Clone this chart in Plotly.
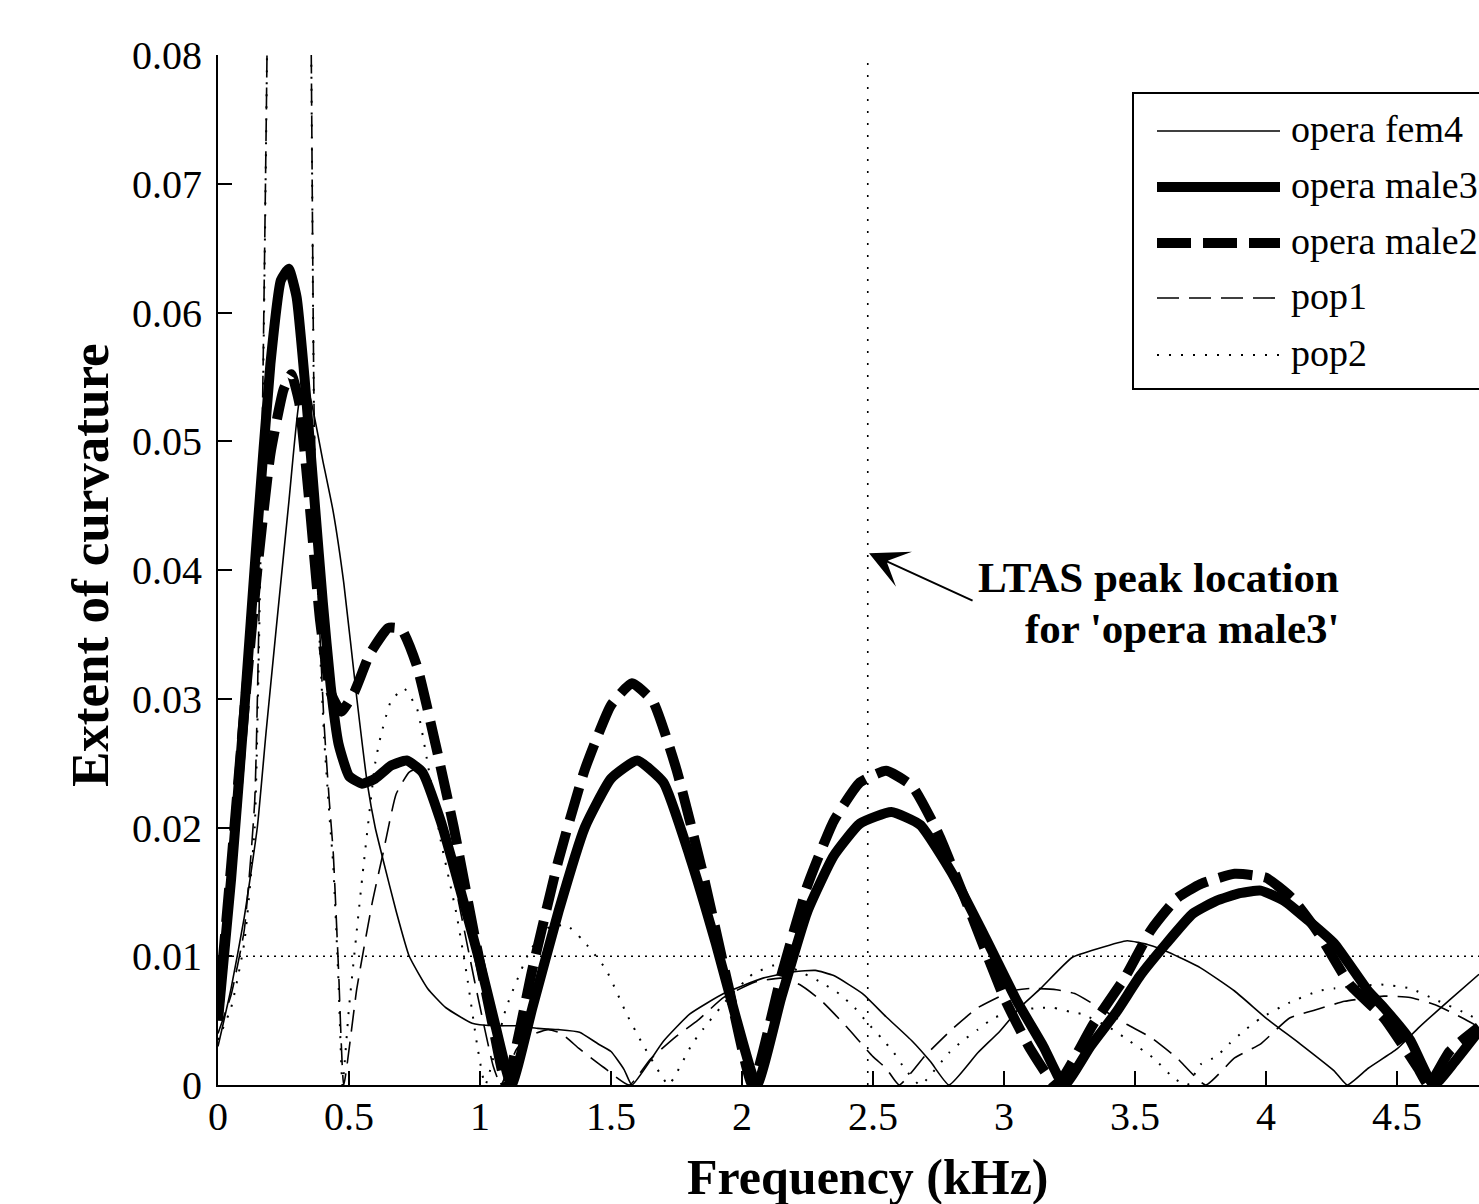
import plotly.graph_objects as go

# ---------------- data ----------------
freq_fem4 = [0, 0.05, 0.1, 0.15, 0.183, 0.22, 0.271, 0.31, 0.33, 0.35, 0.4, 0.44, 0.48, 0.53, 0.57,
             0.6, 0.63, 0.68, 0.73, 0.8, 0.87, 0.97, 1.05, 1.14, 1.22, 1.3, 1.38, 1.45, 1.5, 1.55,
             1.58, 1.7, 1.8, 1.93, 2.08, 2.2, 2.28, 2.35, 2.46, 2.55, 2.65, 2.72, 2.79, 2.9, 2.985,
             3.06, 3.14, 3.26, 3.36, 3.47, 3.55, 3.63, 3.75, 3.88, 4.0, 4.13, 4.26, 4.31, 4.39,
             4.5, 4.58, 4.7, 4.813]
curv_fem4 = [0.003, 0.0075, 0.013, 0.02, 0.0273, 0.035, 0.0454, 0.0531, 0.054, 0.0535, 0.0485,
             0.0445, 0.039, 0.03, 0.0234, 0.02, 0.0175, 0.0135, 0.01, 0.0075, 0.006, 0.0048,
             0.0046, 0.0046, 0.0044, 0.0043, 0.0041, 0.0032, 0.0026, 0.0012, 0.0, 0.0034, 0.0055,
             0.0071, 0.0083, 0.0088, 0.0089, 0.0085, 0.0071, 0.0053, 0.0034, 0.0018, 0.0, 0.0025,
             0.0042, 0.006, 0.0075, 0.0099, 0.0106, 0.0112, 0.0109, 0.0103, 0.0091, 0.0073,
             0.0052, 0.0032, 0.0011, 0.0, 0.0013, 0.0028, 0.0044, 0.0066, 0.0086]

freq_male3 = [0, 0.05, 0.1, 0.15, 0.2, 0.24, 0.27, 0.3, 0.33, 0.37, 0.4, 0.43, 0.46, 0.5, 0.55,
              0.6, 0.66, 0.72, 0.78, 0.85, 0.92, 1.0, 1.06, 1.12, 1.2, 1.3, 1.4, 1.5, 1.6, 1.7,
              1.8, 1.9, 1.98, 2.057, 2.15, 2.25, 2.35, 2.45, 2.57, 2.68, 2.8, 2.92, 3.05, 3.15,
              3.23, 3.33, 3.43, 3.52, 3.62, 3.72, 3.81, 3.9, 3.98, 4.07, 4.16, 4.26, 4.39, 4.45,
              4.55, 4.64, 4.72, 4.813]
curv_male3 = [0.005, 0.016, 0.029, 0.043, 0.056, 0.0625, 0.0634, 0.0612, 0.055, 0.045, 0.0375,
              0.031, 0.0265, 0.024, 0.0234, 0.0238, 0.0248, 0.0252, 0.0243, 0.0205, 0.0155,
              0.0095, 0.0045, 0.0, 0.006, 0.0135, 0.02, 0.0238, 0.0252, 0.0235, 0.0178, 0.011,
              0.005, 0.0, 0.0068, 0.0135, 0.0178, 0.0203, 0.0212, 0.0202, 0.0165, 0.0118, 0.0065,
              0.003, 0.0, 0.003, 0.0057, 0.0085, 0.011, 0.0133, 0.0143, 0.0149, 0.0151, 0.0143,
              0.0128, 0.011, 0.0073, 0.006, 0.0035, 0.0, 0.0018, 0.0042]

freq_male2 = [0, 0.05, 0.1, 0.15, 0.2, 0.25, 0.28, 0.31, 0.35, 0.39, 0.43, 0.47, 0.52, 0.58, 0.65,
              0.7, 0.76, 0.83, 0.9, 0.98, 1.05, 1.1, 1.2, 1.3, 1.4, 1.5, 1.58, 1.66, 1.75, 1.85,
              1.95, 2.04, 2.15, 2.25, 2.35, 2.45, 2.55, 2.65, 2.75, 2.87, 3.0, 3.1, 3.2, 3.34,
              3.46, 3.56, 3.66, 3.75, 3.88, 4.0, 4.1, 4.2, 4.32, 4.45, 4.58, 4.62, 4.7, 4.813]
curv_male2 = [0.0055, 0.017, 0.029, 0.04, 0.049, 0.054, 0.0552, 0.053, 0.045, 0.036, 0.0305,
              0.029, 0.0305, 0.0335, 0.0355, 0.0354, 0.0325, 0.0265, 0.02, 0.0115, 0.0045, 0.0,
              0.009, 0.0175, 0.0245, 0.0295, 0.0312, 0.0298, 0.0245, 0.0165, 0.0075, 0.0, 0.0085,
              0.0155, 0.0205, 0.0235, 0.0244, 0.0232, 0.0195, 0.0135, 0.0068, 0.0028, 0.0, 0.0047,
              0.0083, 0.012, 0.0145, 0.0156, 0.0164, 0.0161, 0.0145, 0.0118, 0.0078, 0.0052,
              0.0013, 0.0, 0.0026, 0.0045]

freq_pop1 = [0, 0.05, 0.1, 0.14, 0.168, 0.187, 0.2, 0.27, 0.34, 0.356, 0.367, 0.385, 0.405, 0.425,
             0.44, 0.46, 0.48, 0.53, 0.59, 0.63, 0.68, 0.73, 0.77, 0.82, 0.9, 0.98, 1.05, 1.08,
             1.14, 1.2, 1.26, 1.31, 1.38, 1.47, 1.57, 1.65, 1.75, 1.83, 1.93, 2.05, 2.15, 2.22,
             2.3, 2.4, 2.5, 2.55, 2.6, 2.7, 2.8, 2.9, 3.03, 3.1, 3.2, 3.27, 3.34, 3.47, 3.56, 3.66,
             3.77, 3.88, 3.98, 4.09, 4.2, 4.3, 4.45, 4.55, 4.65, 4.75, 4.813]
curv_pop1 = [0.004, 0.007, 0.012, 0.022, 0.05, 0.08, 0.12, 0.16, 0.12, 0.08, 0.052, 0.037, 0.028,
             0.022, 0.018, 0.009, 0.0, 0.0075, 0.0143, 0.018, 0.0226, 0.0243, 0.0246, 0.0225,
             0.016, 0.008, 0.0015, 0.0, 0.0028, 0.0039, 0.0043, 0.004, 0.0028, 0.0014, 0.0, 0.002,
             0.0038, 0.005, 0.0068, 0.008, 0.0083, 0.0078, 0.0066, 0.0045, 0.0022, 0.0013, 0.0,
             0.0023, 0.0043, 0.006, 0.0073, 0.0075, 0.0074, 0.0071, 0.0063, 0.0047, 0.0037,
             0.0021, 0.0, 0.0021, 0.0032, 0.0052, 0.0059, 0.0065, 0.0069, 0.0068, 0.0062, 0.0052,
             0.0045]

freq_pop2 = [0, 0.05, 0.1, 0.14, 0.168, 0.187, 0.2, 0.27, 0.34, 0.356, 0.367, 0.385, 0.405, 0.425,
             0.44, 0.46, 0.475, 0.5, 0.55, 0.6, 0.62, 0.66, 0.71, 0.76, 0.8, 0.85, 0.91, 0.95,
             0.99, 1.02, 1.1, 1.19, 1.26, 1.33, 1.39, 1.48, 1.56, 1.62, 1.69, 1.72, 1.81, 1.85,
             1.95, 2.04, 2.14, 2.2, 2.3, 2.37, 2.43, 2.48, 2.53, 2.58, 2.62, 2.68, 2.79, 2.84, 2.9,
             2.96, 3.05, 3.14, 3.19, 3.25, 3.3, 3.4, 3.48, 3.57, 3.65, 3.7, 3.75, 3.81, 3.86, 3.91,
             3.98, 4.09, 4.2, 4.26, 4.44, 4.55, 4.65, 4.77, 4.813]
curv_pop2 = [0.0035, 0.006, 0.011, 0.02, 0.048, 0.08, 0.12, 0.16, 0.12, 0.08, 0.051, 0.036, 0.027,
             0.021, 0.017, 0.008, 0.0, 0.006, 0.016, 0.025, 0.027, 0.0298, 0.0308, 0.0292, 0.025,
             0.019, 0.0133, 0.0085, 0.003, 0.0, 0.006, 0.0104, 0.0122, 0.0124, 0.0113, 0.009,
             0.0055, 0.0032, 0.0008, 0.0, 0.0032, 0.0043, 0.0068, 0.0086, 0.0094, 0.009, 0.008,
             0.0071, 0.006, 0.0048, 0.0037, 0.0025, 0.0013, 0.0, 0.0025, 0.0034, 0.0043, 0.0052,
             0.0058, 0.006, 0.006, 0.0057, 0.0055, 0.0045, 0.0034, 0.0021, 0.0005, 0.0, 0.0016,
             0.0022, 0.0032, 0.0041, 0.0052, 0.0064, 0.0073, 0.0075, 0.0078, 0.0075, 0.0066,
             0.0055, 0.005]

LTAS_PEAK_KHZ = 2.48        # LTAS peak location for 'opera male3'
THRESHOLD = 0.01            # horizontal dotted reference line

x_tickvals = [0, 0.5, 1, 1.5, 2, 2.5, 3, 3.5, 4, 4.5]
x_ticktext = ["0", "0.5", "1", "1.5", "2", "2.5", "3", "3.5", "4", "4.5"]
y_tickvals = [0, 0.01, 0.02, 0.03, 0.04, 0.05, 0.06, 0.07, 0.08]
y_ticktext = ["0", "0.01", "0.02", "0.03", "0.04", "0.05", "0.06", "0.07", "0.08"]
legend_labels = ["opera fem4", "opera male3", "opera male2", "pop1", "pop2"]

x_title = "Frequency (kHz)"
y_title = "Extent of curvature"
note_line1 = "LTAS peak location"
note_line2 = "for 'opera male3'"

# ---------------- layout geometry ----------------
W, H = 1479, 1204
L, T = 218, 55
PW, PH = W - L, 1030
B = H - T - PH
X_MAX = PW / 262.0
Y_MAX = 0.08
SERIF = "Liberation Serif, Times New Roman, serif"


def px(xpix):
    return (xpix - L) / PW


def py(ypix):
    return (T + PH - ypix) / PH


styles = [
    dict(color="black", width=1.6),                       # fem4
    dict(color="black", width=10),                        # male3
    dict(color="black", width=10, dash="34px,12px"),      # male2
    dict(color="black", width=1.6, dash="22px,10px"),     # pop1
    dict(color="black", width=2, dash="2px,10px"),        # pop2
]
series = [
    (freq_fem4, curv_fem4),
    (freq_male3, curv_male3),
    (freq_male2, curv_male2),
    (freq_pop1, curv_pop1),
    (freq_pop2, curv_pop2),
]

fig = go.Figure()
# thin lines first, thick lines on top
for idx in [4, 3, 0, 1, 2]:
    xs, ys = series[idx]
    st = dict(styles[idx])
    st["shape"] = "spline"
    st["smoothing"] = 0.45
    fig.add_trace(go.Scatter(x=xs, y=ys, mode="lines", name=legend_labels[idx],
                             line=st, showlegend=False, hoverinfo="skip"))

shapes = [
    # threshold line
    dict(type="line", xref="x", yref="y", x0=0, x1=X_MAX, y0=THRESHOLD, y1=THRESHOLD,
         line=dict(color="black", width=1.6, dash="2px,5px"), layer="below"),
    # LTAS peak vertical line
    dict(type="line", xref="x", yref="y", x0=LTAS_PEAK_KHZ, x1=LTAS_PEAK_KHZ, y0=0, y1=Y_MAX,
         line=dict(color="black", width=1.6, dash="2px,10px"), layer="below"),
    # legend box (runs off the right edge like the reference)
    dict(type="rect", xref="paper", yref="paper", x0=px(1133), x1=px(1530),
         y0=py(389), y1=py(93), line=dict(color="black", width=2), fillcolor="white",
         layer="above"),
]

annotations = []
row_y = [131, 187, 243, 298, 355]
for i, lab in enumerate(legend_labels):
    st = dict(styles[i])
    shapes.append(dict(type="line", xref="paper", yref="paper", x0=px(1157), x1=px(1280),
                       y0=py(row_y[i]), y1=py(row_y[i]), line=st, layer="above"))
    annotations.append(dict(xref="paper", yref="paper", x=px(1289), y=py(row_y[i] - 2),
                            xanchor="left", yanchor="middle", text=lab, showarrow=False,
                            font=dict(family=SERIF, size=38, color="black")))

# axis titles
annotations.append(dict(xref="paper", yref="paper", x=px(868), y=py(1177), xanchor="center",
                        yanchor="middle", text="<b>%s</b>" % x_title, showarrow=False,
                        font=dict(family=SERIF, size=50, color="black")))
annotations.append(dict(xref="paper", yref="paper", x=px(90), y=py(565), xanchor="center",
                        yanchor="middle", text="<b>%s</b>" % y_title, showarrow=False,
                        textangle=-90, font=dict(family=SERIF, size=53, color="black")))

# note text + arrow
annotations.append(dict(xref="paper", yref="paper", x=px(1341), y=py(577), xanchor="right",
                        yanchor="middle", text="<b>%s</b>" % note_line1, showarrow=False,
                        font=dict(family=SERIF, size=43, color="black")))
annotations.append(dict(xref="paper", yref="paper", x=px(1341), y=py(629), xanchor="right",
                        yanchor="middle", text="<b>%s</b>" % note_line2, showarrow=False,
                        font=dict(family=SERIF, size=43, color="black")))
annotations.append(dict(xref="x", yref="y", x=LTAS_PEAK_KHZ + 0.005, y=0.0413, text="",
                        showarrow=True, arrowhead=3, arrowsize=3.2, arrowwidth=2,
                        arrowcolor="black", ax=105, ay=48, standoff=0))

fig.update_layout(
    width=W, height=H,
    margin=dict(l=L, r=0, t=T, b=B, pad=0),
    paper_bgcolor="white", plot_bgcolor="white",
    showlegend=False,
    shapes=shapes,
    annotations=annotations,
    font=dict(family=SERIF, color="black"),
    xaxis=dict(range=[0, X_MAX], showgrid=False, zeroline=False, showline=True,
               linecolor="black", linewidth=2, mirror=False, ticks="inside", ticklen=14,
               tickwidth=1.5, tickcolor="black", tickvals=x_tickvals, ticktext=x_ticktext,
               tickfont=dict(family=SERIF, size=40, color="black"), ticklabelstandoff=-5),
    yaxis=dict(range=[0, Y_MAX], showgrid=False, zeroline=False, showline=True,
               linecolor="black", linewidth=2, mirror=False, ticks="inside", ticklen=14,
               tickwidth=1.5, tickcolor="black", tickvals=y_tickvals, ticktext=y_ticktext,
               tickfont=dict(family=SERIF, size=40, color="black"), ticklabelstandoff=6),
)

fig.write_html("out.html", config={"displayModeBar": False},
               post_script="document.body.style.margin='0';document.body.style.overflow='hidden';")
